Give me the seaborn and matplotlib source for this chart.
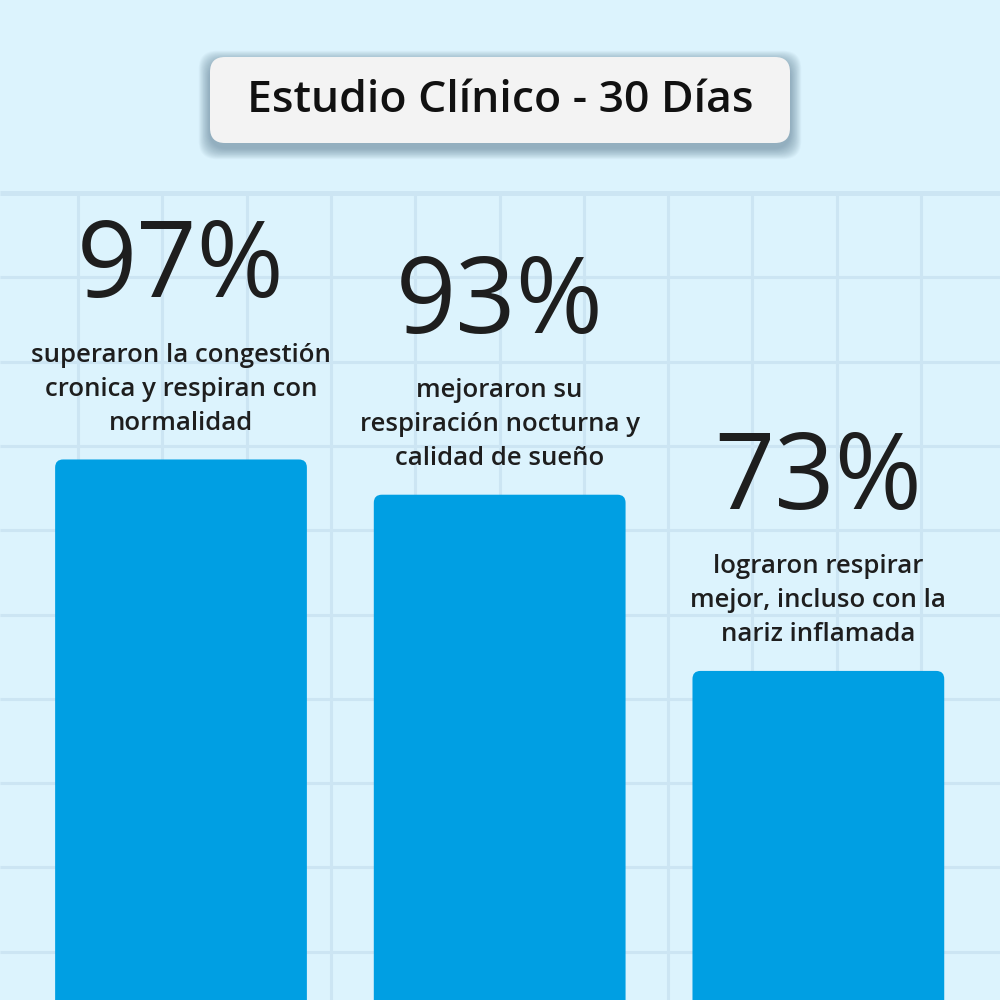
import matplotlib
matplotlib.use("Agg")
import matplotlib.pyplot as plt
from matplotlib.patches import FancyBboxPatch
import seaborn as sns

# ---- data ----
categories = ["Congestión crónica", "Respiración nocturna", "Nariz inflamada"]
values = [97, 93, 73]
value_labels = ["97%", "93%", "73%"]
descriptions = [
    ["superaron la congestión", "cronica y respiran con", "normalidad"],
    ["mejoraron su", "respiración nocturna y", "calidad de sueño"],
    ["lograron respirar", "mejor, incluso con la", "nariz inflamada"],
]
title = "Estudio Clínico - 30 Días"

# ---- style ----
BG = "#dcf3fd"
GRID = "#cce5f3"
BAR = "#009fe3"
TXT = "#1e1e1e"
FONT = ["Open Sans", "DejaVu Sans"]

sns.set_theme(style="white")
plt.rcParams["font.family"] = FONT

fig = plt.figure(figsize=(10, 10), dpi=100)
fig.patch.set_facecolor(BG)

# background grid axes (pixel coordinates)
bg = fig.add_axes([0, 0, 1, 1], zorder=0)
bg.set_xlim(0, 1000)
bg.set_ylim(1000, 0)
bg.axis("off")
bg.set_facecolor(BG)
step = 84.3
y = 193.0
first = True
while y < 1000:
    bg.plot([0, 1000], [y, y], color=GRID, lw=3.6 if first else 2.2, solid_capstyle="butt", zorder=1)
    first = False
    y += step
x = 78.0
while x < 1000:
    bg.plot([x, x], [193, 1000], color=GRID, lw=2.2, solid_capstyle="butt", zorder=1)
    x += step

# title box with soft shadow
bx, by, bw, bh = 210, 57, 580, 86
for i in range(16, 0, -1):
    bg.add_patch(FancyBboxPatch((bx - i * 0.7, by + 5 - i * 0.7), bw + i * 1.4, bh + i * 1.4,
                                boxstyle="round,pad=0,rounding_size=18",
                                fc="#4f6f85", ec="none", alpha=0.04, zorder=2))
bg.add_patch(FancyBboxPatch((bx, by), bw, bh, boxstyle="round,pad=0,rounding_size=15",
                            fc="#f3f3f3", ec="none", zorder=3))
bg.text(bx + bw / 2, by + bh / 2 + 1, title, ha="center", va="center", fontsize=32,
        fontweight="semibold", color="#111111", zorder=4)

# bar axes
ax = fig.add_axes([0, 0, 1, 1], zorder=1)
ax.patch.set_alpha(0)
sns.barplot(x=categories, y=values, ax=ax, width=0.79, color=BAR, saturation=1)
xlim = (-0.568, 2.57)
ylim = (35.65, 149.15)
ax.set_xlim(*xlim)
ax.set_ylim(*ylim)
ax.axis("off")

px_x = 1000 / (xlim[1] - xlim[0])
px_y = 1000 / (ylim[1] - ylim[0])
aspect = px_x / px_y
radius = 8 / px_x

for p, big, lines in zip(list(ax.patches), value_labels, descriptions):
    x0, y0, w, h = p.get_x(), p.get_y(), p.get_width(), p.get_height()
    p.set_visible(False)
    ax.add_patch(FancyBboxPatch((x0, y0), w, h,
                                boxstyle=f"round,pad=0,rounding_size={radius}",
                                mutation_aspect=aspect, fc=BAR, ec="none", zorder=3))
    cx, top = x0 + w / 2, y0 + h
    ax.annotate(big, xy=(cx, top), xytext=(0, 162 * 0.72), textcoords="offset points",
                ha="center", va="baseline", fontsize=76, color=TXT, fontweight="normal")
    n = len(lines)
    for i, line in enumerate(lines):
        off = 36 + 34 * (n - 1 - i)
        ax.annotate(line, xy=(cx, top), xytext=(0, off * 0.72), textcoords="offset points",
                    ha="center", va="center", fontsize=18.5, color=TXT, fontweight="semibold")

fig.savefig("out.png", dpi=100, facecolor=BG)
